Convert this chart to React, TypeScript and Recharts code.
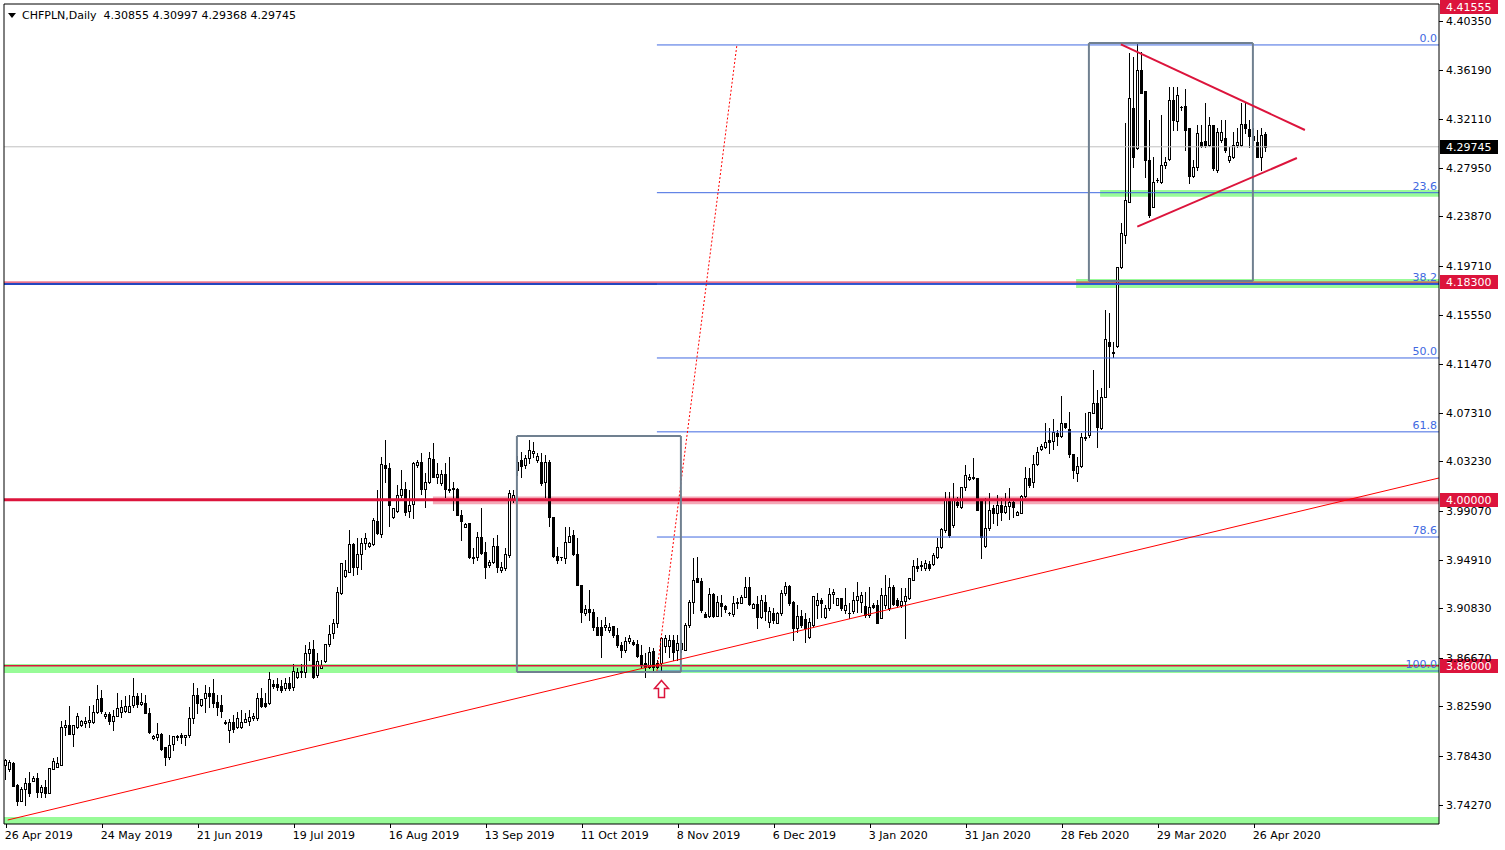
import React from 'react'
import { ComposedChart, Bar, XAxis, YAxis, ReferenceLine, ReferenceArea, ReferenceDot } from 'recharts'

// daily CHFPLN candles (index 0 = 26 Apr 2019)
const openP = [
  3.7764, 3.7728, 3.7784, 3.7595, 3.7463, 3.7559, 3.7612, 3.7631, 3.7654, 3.7538,
  3.7581, 3.7530, 3.7733, 3.7749, 3.7764, 3.8082, 3.8101, 3.8028, 3.8087, 3.8101,
  3.8121, 3.8130, 3.8129, 3.8213, 3.8326, 3.8174, 3.8194, 3.8137, 3.8177, 3.8213,
  3.8222, 3.8213, 3.8267, 3.8345, 3.8278, 3.8284, 3.8204, 3.7988, 3.8002, 3.8025,
  3.7913, 3.7834, 3.7938, 3.7997, 3.8017, 3.7997, 3.8017, 3.8157, 3.8354, 3.8267,
  3.8326, 3.8368, 3.8368, 3.8297, 3.8267, 3.8129, 3.8059, 3.8129, 3.8087, 3.8087,
  3.8129, 3.8135, 3.8157, 3.8157, 3.8326, 3.8284, 3.8284, 3.8446, 3.8446, 3.8432,
  3.8410, 3.8457, 3.8424, 3.8508, 3.8548, 3.8551, 3.8710, 3.8739, 3.8522, 3.8584,
  3.8640, 3.8784, 3.8873, 3.8958, 3.9211, 3.9359, 3.9394, 3.9624, 3.9435, 3.9539,
  3.9632, 3.9612, 3.9626, 3.9820, 3.9711, 4.0293, 4.0265, 3.9851, 3.9905, 4.0043,
  4.0088, 3.9907, 3.9964, 4.0290, 4.0315, 4.0094, 4.0152, 4.0340, 4.0194, 4.0138,
  4.0214, 4.0094, 4.0094, 4.0094, 3.9871, 3.9772, 3.9801, 3.9520, 3.9520, 3.9689,
  3.9562, 3.9449, 3.9477, 3.9610, 3.9408, 3.9422, 3.9534, 3.9997, 4.0250, 4.0334,
  4.0292, 4.0349, 4.0396, 4.0334, 4.0320, 4.0152, 4.0320, 3.9851, 3.9526, 3.9517,
  3.9506, 3.9646, 3.9703, 3.9542, 3.9281, 3.9042, 3.9076, 3.9056, 3.8929, 3.8929,
  3.8929, 3.8901, 3.8935, 3.8859, 3.8775, 3.8733, 3.8812, 3.8798, 3.8784, 3.8691,
  3.8621, 3.8592, 3.8725, 3.8621, 3.8621, 3.8767, 3.8767, 3.8817, 3.8733, 3.8741,
  3.8733, 3.8943, 3.9140, 3.9337, 3.9315, 3.9034, 3.9020, 3.9202, 3.9020, 3.9129,
  3.9107, 3.9042, 3.9034, 3.9140, 3.9132, 3.9177, 3.9262, 3.9087, 3.9123, 3.9014,
  3.9135, 3.8972, 3.9042, 3.8964, 3.9042, 3.9211, 3.9273, 3.9140, 3.8915, 3.9020,
  3.8994, 3.8843, 3.8943, 3.9112, 3.9154, 3.9009, 3.9087, 3.9202, 3.9112, 3.9168,
  3.9073, 3.9047, 3.9064, 3.9154, 3.9135, 3.9107, 3.9028, 3.9112, 3.9112, 3.9006,
  3.9112, 3.9084, 3.9267, 3.9154, 3.9112, 3.9146, 3.9168, 3.9323, 3.9441, 3.9449,
  3.9422, 3.9458, 3.9458, 3.9520, 3.9599, 3.9745, 4.0003, 3.9787, 3.9983, 3.9941,
  4.0110, 4.0172, 4.0180, 4.0180, 3.9997, 3.9611, 3.9760, 3.9927, 3.9890, 3.9955,
  3.9899, 3.9947, 3.9983, 3.9871, 3.9890, 4.0029, 4.0180, 4.0149, 4.0301, 4.0425,
  4.0447, 4.0503, 4.0497, 4.0559, 4.0539, 4.0644, 4.0593, 4.0385, 4.0228, 4.0284,
  4.0531, 4.0545, 4.0733, 4.0812, 4.0601, 4.0868, 4.1332, 4.1242, 4.1296, 4.1958,
  4.2231, 4.2512, 4.3299, 4.2962, 4.3622, 4.3444, 4.2863, 4.2470, 4.2695, 4.2680,
  4.2821, 4.2869, 4.3369, 4.3194, 4.3313, 4.3318, 4.3133, 4.2728, 4.2807, 4.3017,
  4.3026, 4.2990, 4.3158, 4.2779, 4.3032, 4.3046, 4.2863, 4.2891, 4.2990, 4.2990,
  4.3167, 4.3122, 4.3065, 4.3017, 4.2891, 4.30855,
]
const highP = [
  3.7812, 3.7806, 3.7790, 3.7600, 3.7578, 3.7652, 3.7705, 3.7671, 3.7699, 3.7595,
  3.7638, 3.7736, 3.7820, 3.7829, 3.8137, 3.8143, 3.8261, 3.8101, 3.8199, 3.8140,
  3.8171, 3.8261, 3.8267, 3.8438, 3.8396, 3.8213, 3.8213, 3.8227, 3.8373, 3.8312,
  3.8345, 3.8354, 3.8495, 3.8368, 3.8368, 3.8354, 3.8242, 3.8017, 3.8115, 3.8030,
  3.7915, 3.8017, 3.8010, 3.8017, 3.8036, 3.8020, 3.8255, 3.8452, 3.8410, 3.8320,
  3.8438, 3.8424, 3.8486, 3.8354, 3.8354, 3.8143, 3.8149, 3.8185, 3.8213, 3.8227,
  3.8199, 3.8227, 3.8202, 3.8368, 3.8410, 3.8371, 3.8548, 3.8480, 3.8495, 3.8480,
  3.8497, 3.8508, 3.8613, 3.8585, 3.8613, 3.8775, 3.8803, 3.8817, 3.8705, 3.8649,
  3.8785, 3.8941, 3.8994, 3.9264, 3.9470, 3.9492, 3.9745, 3.9632, 3.9674, 3.9674,
  3.9716, 3.9646, 3.9843, 4.0082, 4.0362, 4.0503, 4.0307, 3.9930, 4.0124, 4.0250,
  4.0152, 4.0082, 4.0320, 4.0335, 4.0391, 4.0222, 4.0405, 4.0475, 4.0307, 4.0250,
  4.0307, 4.0362, 4.0152, 4.0096, 3.9913, 3.9806, 3.9805, 3.9596, 3.9730, 3.9927,
  3.9646, 3.9492, 3.9674, 3.9703, 3.9477, 3.9596, 4.0082, 4.0082, 4.0368, 4.0405,
  4.0377, 4.0503, 4.0489, 4.0393, 4.0391, 4.0377, 4.0334, 3.9853, 3.9602, 3.9520,
  3.9772, 3.9772, 3.9745, 3.9674, 3.9283, 3.9112, 3.9239, 3.9076, 3.9014, 3.8986,
  3.9014, 3.8957, 3.8937, 3.8915, 3.8803, 3.8846, 3.8859, 3.8817, 3.8817, 3.8775,
  3.8705, 3.8761, 3.8747, 3.8649, 3.8845, 3.8859, 3.8859, 3.8859, 3.8859, 3.8817,
  3.8957, 3.9154, 3.9506, 3.9520, 3.9337, 3.9056, 3.9253, 3.9211, 3.9185, 3.9197,
  3.9112, 3.9056, 3.9185, 3.9168, 3.9197, 3.9345, 3.9345, 3.9129, 3.9185, 3.9197,
  3.9197, 3.9098, 3.9084, 3.9056, 3.9239, 3.9310, 3.9281, 3.9142, 3.9112, 3.9070,
  3.9042, 3.9003, 3.9185, 3.9211, 3.9168, 3.9112, 3.9253, 3.9245, 3.9170, 3.9170,
  3.9253, 3.9126, 3.9225, 3.9309, 3.9225, 3.9225, 3.9267, 3.9126, 3.9154, 3.9253,
  3.9365, 3.9337, 3.9281, 3.9168, 3.9253, 3.9253, 3.9337, 3.9492, 3.9508, 3.9487,
  3.9492, 3.9487, 3.9548, 3.9674, 3.9759, 4.0065, 4.0067, 4.0138, 4.0025, 4.0110,
  4.0292, 4.0216, 4.0349, 4.0185, 4.0000, 4.0012, 4.0054, 3.9955, 4.0040, 4.0012,
  4.0054, 4.0096, 3.9997, 3.9907, 4.0040, 4.0278, 4.0264, 4.0377, 4.0447, 4.0472,
  4.0644, 4.0602, 4.0677, 4.0587, 4.0874, 4.0649, 4.0742, 4.0387, 4.0362, 4.0559,
  4.0728, 4.0742, 4.1093, 4.0924, 4.0938, 4.1599, 4.1576, 4.1326, 4.1964, 4.2330,
  4.3173, 4.3763, 4.3734, 4.3847, 4.3776, 4.3446, 4.3200, 4.2891, 4.2709, 4.3242,
  4.2891, 4.3481, 4.3481, 4.3481, 4.3315, 4.3459, 4.3135, 4.2863, 4.3158, 4.3158,
  4.3341, 4.3228, 4.3160, 4.3130, 4.3200, 4.3200, 4.2975, 4.3102, 4.3130, 4.3341,
  4.3355, 4.3200, 4.3133, 4.3116, 4.3130, 4.30997,
]
const lowP = [
  3.7643, 3.7713, 3.7587, 3.7427, 3.7460, 3.7427, 3.7502, 3.7629, 3.7496, 3.7496,
  3.7496, 3.7530, 3.7733, 3.7749, 3.7764, 3.8017, 3.8028, 3.7924, 3.8073, 3.8095,
  3.8087, 3.8087, 3.8115, 3.8199, 3.8199, 3.8157, 3.8109, 3.8059, 3.8177, 3.8166,
  3.8213, 3.8213, 3.8255, 3.8255, 3.8269, 3.8199, 3.8031, 3.7985, 3.7974, 3.7893,
  3.7764, 3.7812, 3.7890, 3.7974, 3.7947, 3.7932, 3.8002, 3.8115, 3.8199, 3.8265,
  3.8213, 3.8255, 3.8255, 3.8185, 3.8171, 3.8109, 3.7959, 3.8040, 3.8073, 3.8073,
  3.8126, 3.8101, 3.8143, 3.8143, 3.8250, 3.8255, 3.8280, 3.8413, 3.8396, 3.8382,
  3.8396, 3.8396, 3.8396, 3.8500, 3.8506, 3.8508, 3.8649, 3.8495, 3.8508, 3.8579,
  3.8636, 3.8767, 3.8831, 3.8929, 3.9208, 3.9348, 3.9390, 3.9365, 3.9373, 3.9415,
  3.9582, 3.9603, 3.9617, 3.9714, 3.9688, 4.0152, 3.9777, 3.9848, 3.9899, 4.0023,
  3.9871, 3.9857, 3.9845, 4.0279, 4.0052, 3.9941, 4.0138, 4.0190, 4.0138, 4.0124,
  4.0025, 4.0067, 3.9913, 3.9869, 3.9660, 3.9767, 3.9506, 3.9464, 3.9492, 3.9546,
  3.9337, 3.9435, 3.9464, 3.9393, 3.9393, 3.9408, 3.9520, 3.9980, 4.0208, 4.0194,
  4.0264, 4.0307, 4.0362, 4.0320, 4.0124, 4.0025, 3.9777, 3.9520, 3.9464, 3.9492,
  3.9464, 3.9643, 3.9534, 3.9278, 3.8972, 3.9028, 3.8986, 3.8901, 3.8856, 3.8677,
  3.8901, 3.8887, 3.8845, 3.8761, 3.8677, 3.8719, 3.8789, 3.8775, 3.8677, 3.8578,
  3.8508, 3.8578, 3.8550, 3.8578, 3.8564, 3.8719, 3.8677, 3.8649, 3.8649, 3.8716,
  3.8730, 3.8929, 3.9042, 3.9303, 3.9056, 3.9009, 3.9014, 3.9014, 3.9017, 3.9020,
  3.9056, 3.9028, 3.9020, 3.9087, 3.9126, 3.9177, 3.9115, 3.9085, 3.8915, 3.9000,
  3.8986, 3.8929, 3.8958, 3.8957, 3.9028, 3.9197, 3.9115, 3.8817, 3.8887, 3.8929,
  3.8803, 3.8834, 3.8929, 3.9000, 3.9014, 3.9006, 3.9073, 3.9126, 3.9110, 3.9073,
  3.9042, 3.9000, 3.9042, 3.9056, 3.9056, 3.9014, 3.9014, 3.9087, 3.8958, 3.9005,
  3.9084, 3.9070, 3.9112, 3.9098, 3.9098, 3.8836, 3.9165, 3.9320, 3.9399, 3.9408,
  3.9408, 3.9408, 3.9449, 3.9506, 3.9590, 3.9728, 3.9688, 3.9773, 3.9941, 3.9927,
  4.0082, 4.0166, 4.0178, 3.9910, 3.9506, 3.9604, 3.9745, 3.9801, 3.9787, 3.9829,
  3.9890, 3.9835, 3.9857, 3.9867, 3.9885, 4.0025, 4.0110, 4.0110, 4.0292, 4.0419,
  4.0433, 4.0391, 4.0425, 4.0461, 4.0531, 4.0602, 4.0362, 4.0180, 4.0160, 4.0278,
  4.0503, 4.0531, 4.0728, 4.0447, 4.0593, 4.0863, 4.0952, 4.1205, 4.1290, 4.1950,
  4.2161, 4.2512, 4.2807, 4.2953, 4.3425, 4.2722, 4.2386, 4.2465, 4.2680, 4.2672,
  4.2793, 4.2863, 4.3116, 4.3116, 4.3284, 4.2948, 4.2667, 4.2722, 4.2779, 4.2975,
  4.2975, 4.2981, 4.2779, 4.2765, 4.3017, 4.2933, 4.2849, 4.2877, 4.2975, 4.2981,
  4.3093, 4.2975, 4.2990, 4.2886, 4.2779, 4.29368,
]
const closeP = [
  3.7806, 3.7787, 3.7589, 3.7463, 3.7561, 3.7612, 3.7530, 3.7657, 3.7536, 3.7576,
  3.7530, 3.7736, 3.7797, 3.7778, 3.8082, 3.8101, 3.8028, 3.8101, 3.8177, 3.8135,
  3.8135, 3.8140, 3.8213, 3.8317, 3.8219, 3.8194, 3.8137, 3.8177, 3.8242, 3.8250,
  3.8261, 3.8265, 3.8345, 3.8278, 3.8297, 3.8199, 3.8044, 3.8008, 3.8025, 3.7896,
  3.7834, 3.7932, 3.8008, 3.8008, 3.7997, 3.8017, 3.8157, 3.8354, 3.8284, 3.8317,
  3.8368, 3.8345, 3.8284, 3.8255, 3.8222, 3.8115, 3.8129, 3.8065, 3.8157, 3.8129,
  3.8152, 3.8171, 3.8177, 3.8326, 3.8264, 3.8264, 3.8486, 3.8432, 3.8424, 3.8396,
  3.8457, 3.8415, 3.8556, 3.8551, 3.8556, 3.8710, 3.8739, 3.8508, 3.8640, 3.8607,
  3.8781, 3.8865, 3.8958, 3.9219, 3.9465, 3.9408, 3.9624, 3.9435, 3.9542, 3.9632,
  3.9674, 3.9632, 3.9829, 3.9717, 4.0298, 4.0265, 3.9953, 3.9927, 4.0043, 4.0088,
  3.9899, 3.9955, 4.0307, 4.0315, 4.0086, 4.0146, 4.0349, 4.0194, 4.0214, 4.0214,
  4.0094, 4.0080, 4.0102, 3.9871, 3.9823, 3.9792, 3.9520, 3.9506, 3.9689, 3.9548,
  3.9435, 3.9477, 3.9610, 3.9435, 3.9435, 3.9542, 4.0054, 4.0040, 4.0317, 4.0284,
  4.0349, 4.0419, 4.0413, 4.0368, 4.0143, 4.0315, 3.9851, 3.9526, 3.9492, 3.9516,
  3.9646, 3.9694, 3.9542, 3.9281, 3.9056, 3.9076, 3.9056, 3.8929, 3.8859, 3.8859,
  3.8943, 3.8929, 3.8859, 3.8775, 3.8733, 3.8812, 3.8832, 3.8784, 3.8683, 3.8607,
  3.8592, 3.8719, 3.8592, 3.8592, 3.8832, 3.8832, 3.8817, 3.8719, 3.8789, 3.8792,
  3.8943, 3.9135, 3.9323, 3.9303, 3.9070, 3.9011, 3.9202, 3.9020, 3.9138, 3.9101,
  3.9076, 3.9043, 3.9132, 3.9132, 3.9183, 3.9262, 3.9123, 3.9123, 3.9014, 3.9154,
  3.9062, 3.9062, 3.8986, 3.9042, 3.9211, 3.9273, 3.9129, 3.8915, 3.9020, 3.8943,
  3.8915, 3.8969, 3.9185, 3.9154, 3.9126, 3.9090, 3.9202, 3.9225, 3.9168, 3.9087,
  3.9112, 3.9042, 3.9154, 3.9188, 3.9197, 3.9028, 3.9098, 3.9098, 3.8960, 3.9197,
  3.9197, 3.9267, 3.9118, 3.9112, 3.9146, 3.9185, 3.9337, 3.9441, 3.9424, 3.9444,
  3.9469, 3.9422, 3.9534, 3.9599, 3.9751, 3.9997, 3.9702, 4.0003, 3.9955, 4.0110,
  4.0208, 4.0194, 4.0191, 3.9913, 3.9688, 3.9760, 3.9913, 3.9890, 3.9955, 3.9899,
  3.9947, 3.9983, 3.9941, 3.9899, 4.0029, 4.0180, 4.0124, 4.0301, 4.0405, 4.0453,
  4.0489, 4.0489, 4.0573, 4.0539, 4.0644, 4.0610, 4.0385, 4.0250, 4.0284, 4.0531,
  4.0517, 4.0742, 4.0812, 4.0610, 4.0868, 4.1352, 4.1296, 4.1234, 4.1964, 4.2250,
  4.2526, 4.3383, 4.2891, 4.3622, 4.3430, 4.2863, 4.2400, 4.2680, 4.2696, 4.2821,
  4.2849, 4.3369, 4.3200, 4.3411, 4.3312, 4.3116, 4.2728, 4.2807, 4.3088, 4.2981,
  4.2990, 4.3158, 4.2793, 4.3102, 4.3102, 4.2948, 4.2897, 4.2990, 4.3017, 4.3167,
  4.3130, 4.3065, 4.3032, 4.2886, 4.3074, 4.29745,
]

const dateLabels = [
  '26 Apr 2019', '24 May 2019', '21 Jun 2019', '19 Jul 2019', '16 Aug 2019', '13 Sep 2019', '11 Oct 2019',
  '8 Nov 2019', '6 Dec 2019', '3 Jan 2020', '31 Jan 2020', '28 Feb 2020', '29 Mar 2020', '26 Apr 2020',
]
const dateTicks = dateLabels.map((_, k) => k * 24)
const priceTicks = [
  4.4035, 4.3619, 4.3211, 4.2795, 4.2387, 4.1971, 4.1555, 4.1147, 4.0731,
  4.0323, 3.9907, 3.9491, 3.9083, 3.8667, 3.8259, 3.7843, 3.7427,
]

// fibonacci retracement drawn from the Oct 2019 low to the Mar 2020 high
const fibLevels = [0, 23.6, 38.2, 50, 61.8, 78.6, 100]
const fibHigh = 4.3833
const fibLow = 3.8556
const fibFrom = 162.8
const fibTo = 182.8

const X_MIN = -0.425
const X_MAX = 358.325
const Y_MIN = 3.72664
const Y_MAX = 4.41781

const FONT = '"DejaVu Sans", Tahoma, Verdana, sans-serif'
const CRIMSON = '#DC143C'
const FIB_BLUE = '#4169E1'
const BOX_GRAY = '#708090'
const GREEN = '#98FB98'

const candles = openP.map((o, i) => ({
  i, o, h: highP[i], l: lowP[i], c: closeP[i], hl: [lowP[i], highP[i]],
}))

function Candle(props: any) {
  const { x, y, width, height, payload } = props
  if (!payload || !isFinite(x) || !isFinite(y)) return null
  const { o, h, l, c } = payload
  const cx = Math.round(x + width / 2 - 0.5) + 0.5
  const span = h - l
  const toY = (v: number) => (span > 0 ? y + ((h - v) / span) * height : y)
  const bTop = Math.round(toY(Math.max(o, c))) + 0.5
  const bBot = Math.round(toY(Math.min(o, c))) + 0.5
  return (
    <g>
      <line x1={cx} x2={cx} y1={Math.round(y)} y2={Math.round(y + height) + 1} stroke="#000" />
      {bBot - bTop < 1 ? (
        <line x1={cx - 1.5} x2={cx + 1.5} y1={bTop} y2={bTop} stroke="#000" />
      ) : (
        <rect x={cx - 1} y={bTop} width={2} height={bBot - bTop} fill={c >= o ? '#fff' : '#000'} stroke="#000" />
      )}
    </g>
  )
}

function DateTick({ x, y, payload }: any) {
  const k = Math.round(payload.value / 24)
  const xx = Math.round(x) + 0.5
  return (
    <g>
      <line x1={xx} x2={xx} y1={y} y2={y + 4} stroke="#000" />
      <text x={x - 1} y={y + 15} fontSize={11} fontFamily={FONT} fill="#000">{dateLabels[k]}</text>
    </g>
  )
}

function PriceTick({ x, y, payload }: any) {
  const yy = Math.round(y) + 0.5
  return (
    <g>
      <line x1={x} x2={x + 4} y1={yy} y2={yy} stroke="#000" />
      <text x={x + 7} y={y + 4} fontSize={11} fontFamily={FONT} fill="#000">{payload.value.toFixed(5)}</text>
    </g>
  )
}

function Tag({ viewBox, text, bg }: any) {
  if (!viewBox) return null
  const yy = Math.round(viewBox.y)
  const x0 = viewBox.x + viewBox.width + 1
  return (
    <g>
      <rect x={x0} y={yy - 7} width={58} height={14} fill={bg} />
      <text x={x0 + 6} y={yy + 4} fill="#fff" fontSize={11} fontFamily={FONT}>{text}</text>
    </g>
  )
}

function FibLabel({ viewBox, text }: any) {
  if (!viewBox) return null
  return (
    <text x={viewBox.x + viewBox.width - 2} y={viewBox.y - 3} textAnchor="end" fill={FIB_BLUE} fontSize={11} fontFamily={FONT}>
      {text}
    </text>
  )
}

function UpArrow({ cx, cy }: any) {
  const x = Math.round(cx) + 0.5
  const y = Math.round(cy) + 0.5
  const d = `M${x},${y} L${x + 7},${y + 8} L${x + 3},${y + 8} L${x + 3},${y + 17} L${x - 3},${y + 17} L${x - 3},${y + 8} L${x - 7},${y + 8} Z`
  return <path d={d} fill="#fff" stroke={CRIMSON} strokeWidth={1.5} />
}

function boxEdges(x1: number, x2: number, y1: number, y2: number, key: string) {
  const seg = [
    [{ x: x1, y: y1 }, { x: x2, y: y1 }],
    [{ x: x1, y: y2 }, { x: x2, y: y2 }],
    [{ x: x1, y: y1 }, { x: x1, y: y2 }],
    [{ x: x2, y: y1 }, { x: x2, y: y2 }],
  ]
  return seg.map((s, k) => (
    <ReferenceLine key={key + k} segment={s as any} stroke={BOX_GRAY} strokeWidth={2} />
  ))
}

export default function App() {
  const fibPrice = (lv: number) => fibHigh - (lv / 100) * (fibHigh - fibLow)

  return (
    <div style={{ position: 'absolute', left: 0, top: 0, width: 1505, height: 850, background: '#fff' }}>
      <ComposedChart width={1505} height={850} data={candles} margin={{ top: 4, right: 1, bottom: 1, left: 4 }}>
        <XAxis
          dataKey="i" type="number" domain={[X_MIN, X_MAX]} allowDataOverflow
          ticks={dateTicks} interval={0} tick={<DateTick />} tickLine={false}
          tickSize={0} tickMargin={0} height={25} axisLine={{ stroke: '#000' }}
        />
        <YAxis
          orientation="right" type="number" domain={[Y_MIN, Y_MAX]} allowDataOverflow
          ticks={priceTicks} interval={0} tick={<PriceTick />} tickLine={false}
          tickSize={0} tickMargin={0} width={65} axisLine={{ stroke: '#000' }}
        />

        {/* zones */}
        <ReferenceArea x1={X_MIN} x2={X_MAX} y1={3.8539} y2={3.8615} fill={GREEN} fillOpacity={1} />
        <ReferenceArea x1={X_MIN} x2={X_MAX} y1={Y_MIN} y2={3.7325} fill={GREEN} fillOpacity={1} />
        <ReferenceArea x1={273.6} x2={X_MAX} y1={4.2554} y2={4.2610} fill={GREEN} fillOpacity={1} />
        <ReferenceArea x1={267.6} x2={X_MAX} y1={4.1784} y2={4.1860} fill={GREEN} fillOpacity={1} />
        <ReferenceArea x1={106.8} x2={X_MAX} y1={3.9962} y2={4.0027} fill="#F4A7B6" fillOpacity={1} />

        <ReferenceLine y={4.29745} stroke="#C0C0C0" label={<Tag text="4.29745" bg="#000" />} />

        <Bar dataKey="hl" barSize={3} shape={<Candle />} isAnimationActive={false} />

        {/* horizontal levels */}
        <ReferenceLine y={4.41555} stroke="none" label={<Tag text="4.41555" bg={CRIMSON} />} />
        <ReferenceLine y={4.0} stroke={CRIMSON} strokeWidth={3} label={<Tag text="4.00000" bg={CRIMSON} />} />
        <ReferenceLine y={3.86} stroke={CRIMSON} strokeWidth={1.5} label={<Tag text="3.86000" bg={CRIMSON} />} />
        <ReferenceLine y={4.1834} stroke={CRIMSON} label={<Tag text="4.18300" bg={CRIMSON} />} />
        <ReferenceLine y={4.1817} stroke="#2346C0" strokeWidth={2} />

        {/* fibonacci */}
        {fibLevels.map((lv) => (
          <ReferenceLine
            key={'fib' + lv}
            segment={[{ x: fibFrom, y: fibPrice(lv) }, { x: X_MAX, y: fibPrice(lv) }]}
            stroke={FIB_BLUE}
            label={<FibLabel text={lv.toFixed(1)} />}
          />
        ))}
        <ReferenceLine segment={[{ x: fibFrom, y: fibLow }, { x: fibTo, y: fibHigh }]} stroke="#FF0000" strokeDasharray="2 2" />

        {/* rectangles */}
        {boxEdges(127.8, 168.8, 3.8548, 4.0537, 'b1')}
        {boxEdges(270.8, 311.8, 4.1843, 4.3849, 'b2')}

        {/* trend lines */}
        <ReferenceLine segment={[{ x: 0.5, y: 3.7300 }, { x: X_MAX, y: 4.0183 }]} stroke="#FF0000" />
        <ReferenceLine segment={[{ x: 278.8, y: 4.3838 }, { x: 324.8, y: 4.3116 }]} stroke={CRIMSON} strokeWidth={2} />
        <ReferenceLine segment={[{ x: 282.9, y: 4.2301 }, { x: 322.8, y: 4.2880 }]} stroke={CRIMSON} strokeWidth={2} />

        <ReferenceDot x={163.8} y={3.848} r={0} shape={<UpArrow />} />

        {/* frame */}
        <ReferenceLine x={X_MIN} stroke="#000" />
        <ReferenceLine y={Y_MAX} stroke="#000" />
      </ComposedChart>

      <div style={{ position: 'absolute', left: 8, top: 9, display: 'flex', alignItems: 'center' }}>
        <svg width={10} height={8} style={{ marginRight: 4 }}>
          <polygon points="0,1 8,1 4,6" fill="#000" />
        </svg>
        <span style={{ font: `11px ${FONT}`, color: '#000', whiteSpace: 'pre' }}>
          CHFPLN,Daily  4.30855 4.30997 4.29368 4.29745
        </span>
      </div>
    </div>
  )
}
